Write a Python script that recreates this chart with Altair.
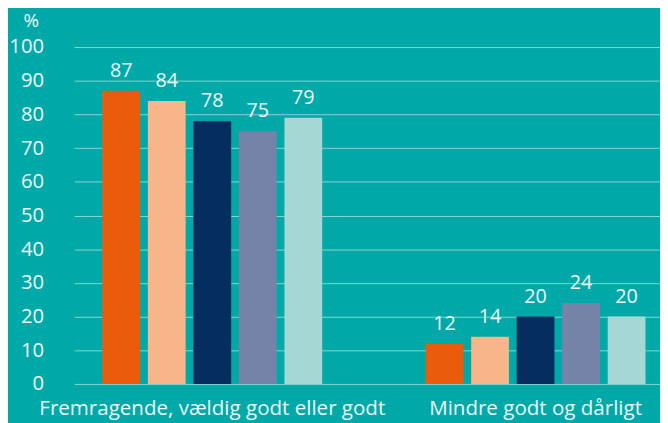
import altair as alt
import pandas as pd

categories = ["Fremragende, vældig godt eller godt", "Mindre godt og dårligt"]
series = ["Serie 1", "Serie 2", "Serie 3", "Serie 4", "Serie 5"]
values_1 = [87, 84, 78, 75, 79]
values_2 = [12, 14, 20, 24, 20]
colors = ["#EA5B0C", "#F8B58A", "#062D5F", "#7683A8", "#A5D7D4"]

rows = []
for s, v in zip(series, values_1):
    rows.append({"kategori": categories[0], "serie": s, "værdi": v})
for s, v in zip(series, values_2):
    rows.append({"kategori": categories[1], "serie": s, "værdi": v})
df = pd.DataFrame(rows)

FONT = "Open Sans"
TXT = "#EAF7F6"

x = alt.X("kategori:N", sort=categories, title=None,
          scale=alt.Scale(paddingInner=0.32, paddingOuter=0.066, align=0.66),
          axis=alt.Axis(labelAngle=0, domain=False, ticks=False, labelPadding=15, labelLimit=0,
                        labelFontSize=20.8, labelColor=TXT, labelFont=FONT))
xo = alt.XOffset("serie:N", sort=series,
                 scale=alt.Scale(paddingInner=0.17, paddingOuter=0))
y = alt.Y("værdi:Q", title="%",
          scale=alt.Scale(domain=[0, 100], nice=False),
          axis=alt.Axis(values=list(range(0, 101, 10)), domain=False, ticks=False,
                        labelPadding=31, labelFontSize=20.5, labelColor=TXT, labelFont=FONT,
                        grid=True, gridColor="#86D5D2", gridWidth=1,
                        titleAngle=0, titleX=-44, titleY=-27, titleAlign="center",
                        titleBaseline="middle", titleFontSize=19, titleFontWeight="normal",
                        titleColor=TXT, titleFont=FONT))

bars = alt.Chart(df).mark_bar().encode(
    x=x, xOffset=xo, y=y,
    color=alt.Color("serie:N", sort=series, scale=alt.Scale(domain=series, range=colors), legend=None),
)
labels = alt.Chart(df).mark_text(baseline="bottom", dy=-10, fontSize=20, font=FONT, color=TXT).encode(
    x=x, xOffset=xo, y=y, text="værdi:Q"
)

chart = (bars + labels).properties(
    width=593, height=341,
    autosize=alt.AutoSizeParams(type="none"),
    padding={"left": 67, "top": 37, "right": 0, "bottom": 37},
    background="#00A9A8",
).configure_view(stroke=None)

chart.save("out.html", embed_options={"renderer": "svg", "actions": False})
